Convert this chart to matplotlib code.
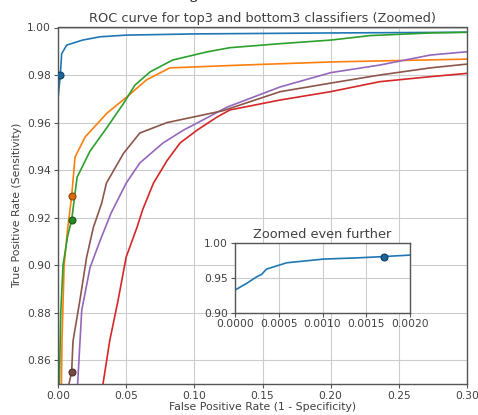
import matplotlib
matplotlib.use('Agg')
import matplotlib.pyplot as plt
from matplotlib.colors import to_rgb

# ROC curve points (fpr, tpr)
blue_fpr = [0.0, 0.0, 0.0017, 0.0027, 0.0064, 0.018, 0.031, 0.05, 0.10, 0.20, 0.30]
blue_tpr = [0.85, 0.97, 0.980, 0.989, 0.9926, 0.9947, 0.9961, 0.9968, 0.9973, 0.9977, 0.998]

orange_fpr = [0.0025, 0.003, 0.0045, 0.007, 0.01, 0.0125, 0.02, 0.036, 0.0505, 0.065, 0.082, 0.126, 0.2, 0.3]
orange_tpr = [0.85, 0.87, 0.90, 0.915, 0.929, 0.9455, 0.954, 0.964, 0.9708, 0.978, 0.983, 0.984, 0.9855, 0.9867]

green_fpr = [0.001, 0.002, 0.0037, 0.007, 0.01, 0.014, 0.0235, 0.036, 0.048, 0.0565, 0.0675, 0.084, 0.109,
             0.126, 0.163, 0.2, 0.229, 0.273, 0.30]
green_tpr = [0.85, 0.88, 0.90, 0.912, 0.919, 0.937, 0.948, 0.958, 0.968, 0.9758, 0.9813, 0.9863, 0.9897,
             0.9915, 0.9932, 0.9947, 0.9966, 0.9977, 0.998]

red_fpr = [0.033, 0.038, 0.044, 0.050, 0.058, 0.062, 0.070, 0.080, 0.0895, 0.102, 0.1166, 0.126, 0.163,
           0.2, 0.236, 0.273, 0.30]
red_tpr = [0.85, 0.8684, 0.885, 0.9034, 0.916, 0.9232, 0.9345, 0.944, 0.9514, 0.9568, 0.9623, 0.9653, 0.9695,
           0.973, 0.9772, 0.9793, 0.9807]

purple_fpr = [0.0144, 0.0174, 0.0235, 0.031, 0.039, 0.050, 0.060, 0.077, 0.092, 0.106, 0.124, 0.163, 0.2,
              0.236, 0.273, 0.30]
purple_tpr = [0.85, 0.881, 0.899, 0.9105, 0.922, 0.9345, 0.943, 0.9514, 0.9568, 0.961, 0.9665, 0.975, 0.981,
              0.9842, 0.9884, 0.9898]

brown_fpr = [0.008, 0.01, 0.011, 0.016, 0.021, 0.026, 0.032, 0.0355, 0.048, 0.060, 0.080, 0.099, 0.121,
             0.163, 0.2, 0.236, 0.273, 0.30]
brown_tpr = [0.85, 0.855, 0.868, 0.885, 0.9034, 0.916, 0.926, 0.9345, 0.947, 0.9556, 0.960, 0.9623, 0.965,
             0.973, 0.9766, 0.980, 0.983, 0.9846]

# operating points (fpr, tpr)
marker_fpr = [0.0017, 0.01, 0.01, 0.01]
marker_tpr = [0.980, 0.929, 0.919, 0.855]
marker_colors = ['tab:blue', 'tab:orange', 'tab:green', 'tab:brown']

# inset: best classifier, zoomed even further
inset_fpr = [0.0, 0.0, 0.000134, 0.000248, 0.000305, 0.00036, 0.00059, 0.00101, 0.00139, 0.001666, 0.002]
inset_tpr = [0.90, 0.932, 0.9417, 0.951, 0.9545, 0.962, 0.971, 0.9763, 0.978, 0.9797, 0.982]

x_ticks = [0.0, 0.05, 0.10, 0.15, 0.20, 0.25, 0.30]
y_ticks = [0.86, 0.88, 0.90, 0.92, 0.94, 0.96, 0.98, 1.00]
inset_x_ticks = [0.0, 0.0005, 0.0010, 0.0015, 0.0020]
inset_y_ticks = [0.90, 0.95, 1.00]

text_col = '#404040'
spine_col = '#555555'


def darker(c, f):
    r, g, b = to_rgb(c)
    return (r * f, g * f, b * f)


def style_axes(ax, fs):
    ax.grid(True, color='#cccccc', linewidth=0.8)
    ax.set_axisbelow(True)
    for s in ax.spines.values():
        s.set_color(spine_col)
        s.set_linewidth(1.0)
    ax.tick_params(colors=spine_col, labelcolor=text_col, labelsize=fs, length=3, width=0.8, pad=2)


fig = plt.figure(figsize=(4.78, 4.15), dpi=100)

# clipped caption at the very top of the picture (only its descender shows)
fig.text(172 / 478, 1 + 2 / 415, "Figure", family='DejaVu Serif', fontsize=12,
         color='#222222', va='baseline')

ax = fig.add_axes([58 / 478, 1 - 384 / 415, 409 / 478, 356.5 / 415])
lw = 1.2
ax.plot(blue_fpr, blue_tpr, color='tab:blue', lw=lw)
ax.plot(orange_fpr, orange_tpr, color='tab:orange', lw=lw)
ax.plot(green_fpr, green_tpr, color='tab:green', lw=lw)
ax.plot(red_fpr, red_tpr, color='tab:red', lw=lw)
ax.plot(purple_fpr, purple_tpr, color='tab:purple', lw=lw)
ax.plot(brown_fpr, brown_tpr, color='tab:brown', lw=lw)
for fx, ty, c in zip(marker_fpr, marker_tpr, marker_colors):
    ax.plot([fx], [ty], 'o', ms=5, mfc=darker(c, 0.85), mec=darker(c, 0.55), mew=0.8, zorder=5)

ax.set_xlim(0, 0.30)
ax.set_ylim(0.85, 1.00)
ax.set_xticks(x_ticks)
ax.set_yticks(y_ticks)
ax.set_xticklabels([f"{v:.2f}" for v in x_ticks])
ax.set_yticklabels([f"{v:.2f}" for v in y_ticks])
style_axes(ax, 7.7)
ax.set_xlabel("False Positive Rate (1 - Specificity)", fontsize=7.8, color=text_col, labelpad=1)
ax.set_ylabel("True Positive Rate (Sensitivity)", fontsize=7.8, color=text_col, labelpad=4)
ax.set_title("ROC curve for top3 and bottom3 classifiers (Zoomed)", fontsize=9.3, color=text_col, pad=4)

ins = fig.add_axes([235 / 478, 1 - 312.5 / 415, 175 / 478, 70 / 415])
ins.plot(inset_fpr, inset_tpr, color='tab:blue', lw=lw)
ins.plot([marker_fpr[0]], [marker_tpr[0]], 'o', ms=5, mfc=darker('tab:blue', 0.85),
         mec=darker('tab:blue', 0.55), mew=0.8, zorder=5)
ins.set_xlim(0, 0.002)
ins.set_ylim(0.90, 1.00)
ins.set_xticks(inset_x_ticks)
ins.set_yticks(inset_y_ticks)
ins.set_xticklabels([f"{v:.4f}" for v in inset_x_ticks])
ins.set_yticklabels([f"{v:.2f}" for v in inset_y_ticks])
style_axes(ins, 7.7)
ins.set_title("Zoomed even further", fontsize=9.3, color=text_col, pad=3)

fig.savefig("out.png", dpi=100)
